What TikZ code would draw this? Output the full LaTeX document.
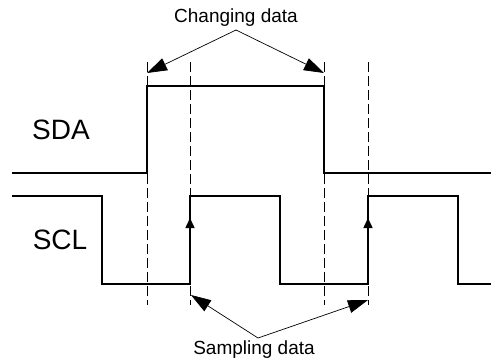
\documentclass[tikz,border=0pt]{standalone}
\usepackage{fontspec}
\setmainfont{Liberation Sans}
\usetikzlibrary{arrows.meta}
\begin{document}
\begin{tikzpicture}[x=1pt,y=-1pt,
  signal/.style={line width=1.5pt, line join=miter},
  guide/.style={line width=0.9pt, dash pattern=on 10pt off 4pt},
  pointer/.style={line width=0.7pt, -{Triangle[length=20pt,width=13pt]}},
  edgearrow/.style={line width=1.5pt, -{Triangle[length=10pt,width=9pt]}},
  siglabel/.style={font=\fontsize{28}{30}\selectfont, inner sep=0pt},
  notelabel/.style={font=\fontsize{19}{21}\selectfont, inner sep=0pt}]
\useasboundingbox (0,0) rectangle (491,362);
% dashed guides
\foreach \gx/\nm in {147/ga,190/gb,324/gc,368/gd}{
  \coordinate (\nm t) at (\gx,62);
  \coordinate (\nm b) at (\gx,305);
  \draw[guide] (\nm t) -- (\nm b);
}
% SDA
\draw[signal] (12,173) -- (147,173) -- (147,86) -- (324,86) -- (324,173) -- (491,173);
% SCL
\draw[signal] (12,196) -- (102,196) -- (102,284) -- (190,284) -- (190,196) -- (280,196)
  -- (280,284) -- (368,284) -- (368,196) -- (458,196) -- (458,284) -- (491,284);
% rising edge arrows
\coordinate (ea) at (190,284); \coordinate (eat) at (190,218);
\coordinate (eb) at (368,284); \coordinate (ebt) at (368,218);
\draw[edgearrow] (ea) -- (eat);
\draw[edgearrow] (eb) -- (ebt);
% labels
\node[siglabel] (sda) at (61,130) {SDA};
\node[siglabel] (scl) at (60,240) {SCL};
\node[notelabel] (chg) at (236,18) {Changing data};
\node[notelabel] (smp) at (254,350) {Sampling data};
% pointers
\coordinate (chgp) at (236,30);
\coordinate (ca) at (147,73);
\coordinate (cb) at (324,73);
\draw[pointer] (chgp) -- (ca);
\draw[pointer] (chgp) -- (cb);
\coordinate (smpp) at (258,338);
\coordinate (sa) at (191,295);
\coordinate (sb) at (368,300);
\draw[pointer] (smpp) -- (sa);
\draw[pointer] (smpp) -- (sb);
\end{tikzpicture}
\end{document}
